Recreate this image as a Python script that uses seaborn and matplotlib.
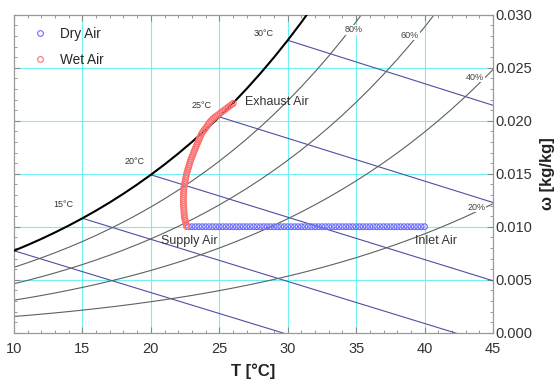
import numpy as np
import pandas as pd
import matplotlib
matplotlib.use("Agg")
import matplotlib.pyplot as plt
import seaborn as sns

# ---------------- data ----------------
# saturation vapour pressure of water (kPa) at integer temperatures (steam table)
sat_T = list(range(10, 46))
sat_p = [1.2282, 1.3130, 1.4028, 1.4981, 1.5990, 1.7058, 1.8188, 1.9384, 2.0647,
         2.1983, 2.3393, 2.4882, 2.6453, 2.8111, 2.9858, 3.1699, 3.3639, 3.5681,
         3.7831, 4.0092, 4.2470, 4.4969, 4.7596, 5.0354, 5.3251, 5.6290, 5.9479,
         6.2823, 6.6328, 7.0002, 7.3849, 7.7878, 8.2096, 8.6508, 9.1124, 9.5950]
total_pressure = 100.0  # kPa
rh_levels = [0.2, 0.4, 0.6, 0.8]
rh_labels = ["20%", "40%", "60%", "80%"]
enthalpy_T0 = [10, 15, 20, 25, 30]
temp_labels = ["15°C", "20°C", "25°C", "30°C"]

dry_T = [22.75, 23.0, 23.25, 23.5, 23.75, 24.0, 24.25, 24.5, 24.75, 25.0, 25.25,
         25.5, 25.75, 26.0, 26.25, 26.5, 26.75, 27.0, 27.25, 27.5, 27.75, 28.0,
         28.25, 28.5, 28.75, 29.0, 29.25, 29.5, 29.75, 30.0, 30.25, 30.5, 30.75,
         31.0, 31.25, 31.5, 31.75, 32.0, 32.25, 32.5, 32.75, 33.0, 33.25, 33.5,
         33.75, 34.0, 34.25, 34.5, 34.75, 35.0, 35.25, 35.5, 35.75, 36.0, 36.25,
         36.5, 36.75, 37.0, 37.25, 37.5, 37.75, 38.0, 38.25, 38.5, 38.75, 39.0,
         39.25, 39.5, 39.75, 40.0]
dry_w = [0.010] * len(dry_T)

wet_T = [22.619, 22.584, 22.549, 22.514, 22.479, 22.444, 22.434, 22.426, 22.417,
         22.408, 22.399, 22.390, 22.381, 22.372, 22.376, 22.384, 22.392, 22.399,
         22.407, 22.415, 22.428, 22.457, 22.487, 22.517, 22.546, 22.576, 22.605,
         22.642, 22.685, 22.728, 22.771, 22.814, 22.856, 22.899, 22.951, 23.007,
         23.062, 23.117, 23.172, 23.227, 23.282, 23.340, 23.398, 23.456, 23.515,
         23.573, 23.632, 23.690, 23.767, 23.857, 23.947, 24.037, 24.123, 24.205,
         24.287, 24.381, 24.485, 24.593, 24.712, 24.832, 24.952, 25.072, 25.191,
         25.311, 25.430, 25.549, 25.668, 25.786, 25.905, 26.024]
wet_w = [0.010000, 0.010187, 0.010374, 0.010562, 0.010749, 0.010936, 0.011127,
         0.011320, 0.011514, 0.011706, 0.011898, 0.012090, 0.012283, 0.012475,
         0.012666, 0.012858, 0.013050, 0.013243, 0.013435, 0.013627, 0.013818,
         0.014007, 0.014196, 0.014386, 0.014574, 0.014762, 0.014951, 0.015137,
         0.015321, 0.015506, 0.015690, 0.015874, 0.016058, 0.016242, 0.016423,
         0.016602, 0.016780, 0.016960, 0.017138, 0.017317, 0.017496, 0.017673,
         0.017850, 0.018027, 0.018204, 0.018381, 0.018559, 0.018736, 0.018900,
         0.019053, 0.019207, 0.019360, 0.019518, 0.019679, 0.019839, 0.019986,
         0.020124, 0.020256, 0.020371, 0.020486, 0.020601, 0.020717, 0.020833,
         0.020948, 0.021063, 0.021178, 0.021294, 0.021410, 0.021526, 0.021642]

# ---------------- derived psychrometric curves ----------------
T_arr = np.array(sat_T, dtype=float)
Ps_arr = np.array(sat_p)


def humidity_ratio(rh):
    pv = rh * Ps_arr
    return 0.622 * pv / (total_pressure - pv)


w_sat = humidity_ratio(1.0)

sns.set_theme(style="ticks")
plt.rcParams["font.family"] = ["Liberation Sans", "DejaVu Sans"]

fig = plt.figure(figsize=(5.55, 3.83), dpi=100)
ax = fig.add_axes([0.0252, 0.1313, 0.8631, 0.8303])

# grid
for gx in range(15, 45, 5):
    ax.axvline(gx, color="#72f1f5", lw=0.8, zorder=0)
for gy in [0.005, 0.010, 0.015, 0.020, 0.025]:
    ax.axhline(gy, color="#72f1f5", lw=0.8, zorder=0)

# constant enthalpy lines
for T0 in enthalpy_T0:
    w0 = w_sat[sat_T.index(T0)]
    h = 1.006 * T0 + w0 * (2501 + 1.86 * T0)
    Ts = np.array([T0, 45.0])
    ws = (h - 1.006 * Ts) / (2501 + 1.86 * Ts)
    sns.lineplot(x=Ts, y=ws, ax=ax, color="#4f4fa3", lw=0.8, sort=False,
                 estimator=None, zorder=1)

# relative humidity curves
for rh in rh_levels:
    sns.lineplot(x=T_arr, y=humidity_ratio(rh), ax=ax, color="#606060", lw=0.8,
                 sort=False, estimator=None, zorder=2)
sns.lineplot(x=T_arr, y=w_sat, ax=ax, color="black", lw=1.5, sort=False,
             estimator=None, zorder=3)

# states
pts = pd.DataFrame({
    "T": dry_T + wet_T,
    "w": dry_w + wet_w,
    "series": ["Dry Air"] * len(dry_T) + ["Wet Air"] * len(wet_T),
})
pal = {"Dry Air": "#6b6bff", "Wet Air": "#ff6f6f"}
sns.scatterplot(data=pts, x="T", y="w", hue="series", ax=ax, palette=pal,
                marker="o", s=17, linewidth=0.8, zorder=5)
# make hollow markers
for coll in ax.collections:
    fc = coll.get_facecolors()
    coll.set_edgecolors(fc)
    coll.set_facecolors("none")

# labels on curves
lbl_kw = dict(fontsize=6.5, color="#444444", ha="center", va="center", zorder=4,
              bbox=dict(facecolor="white", edgecolor="none", pad=0.3))
ax.text(34.84, 0.02856, rh_labels[3], **lbl_kw)
ax.text(38.93, 0.02808, rh_labels[2], **lbl_kw)
ax.text(43.70, 0.02410, rh_labels[1], **lbl_kw)
ax.text(43.80, 0.01185, rh_labels[0], **lbl_kw)
tkw = dict(fontsize=6.5, color="#333333", ha="center", va="center", zorder=4)
ax.text(13.58, 0.01205, temp_labels[0], **tkw)
ax.text(18.84, 0.01611, temp_labels[1], **tkw)
ax.text(23.74, 0.02148, temp_labels[2], **tkw)
ax.text(28.27, 0.02827, temp_labels[3], **tkw)

akw = dict(fontsize=9, color="#333333", va="center", zorder=6)
ax.text(26.9, 0.02176, "Exhaust Air", ha="left", **akw)
ax.text(20.75, 0.00865, "Supply Air", ha="left", **akw)
ax.text(39.3, 0.00865, "Inlet Air", ha="left", **akw)

# axes
ax.set_xlim(10, 45)
ax.set_ylim(0, 0.030)
ax.set_xticks(range(10, 46, 5))
ax.set_xticks(range(10, 46, 1), minor=True)
ax.set_yticks([0.0, 0.005, 0.010, 0.015, 0.020, 0.025, 0.030])
ax.set_yticks(np.arange(0, 0.0305, 0.001), minor=True)
ax.yaxis.set_major_formatter(matplotlib.ticker.StrMethodFormatter("{x:.3f}"))
ax.yaxis.tick_right()
ax.tick_params(which="both", direction="in", top=True, bottom=True, left=True,
               right=True, labelleft=False, labelright=True, colors="#888888",
               labelcolor="#333333", labelsize=10.5)
ax.tick_params(axis="y", which="both", pad=2)
ax.tick_params(axis="x", which="both", pad=7)
ax.tick_params(which="major", length=4, width=0.8)
ax.tick_params(which="minor", length=2.5, width=0.6)
for sp in ax.spines.values():
    sp.set_visible(True)
    sp.set_color("#999999")
    sp.set_linewidth(0.9)

ax.set_xlabel("T [°C]", fontsize=12, fontweight="bold", color="#222222", labelpad=5)
ax.yaxis.set_label_position("right")
ax.set_ylabel("ω [kg/kg]", fontsize=12, fontweight="bold", color="#222222",
              rotation=90, labelpad=5)

leg = ax.legend(loc="upper left", frameon=False, fontsize=9.8, handletextpad=0.45,
                labelspacing=0.85, title=None)
for h, name in zip(leg.legend_handles, ["Dry Air", "Wet Air"]):
    h.set_markerfacecolor("none")
    h.set_markeredgecolor(pal[name])
    h.set_markeredgewidth(0.8)

fig.savefig("out.png", dpi=100)
